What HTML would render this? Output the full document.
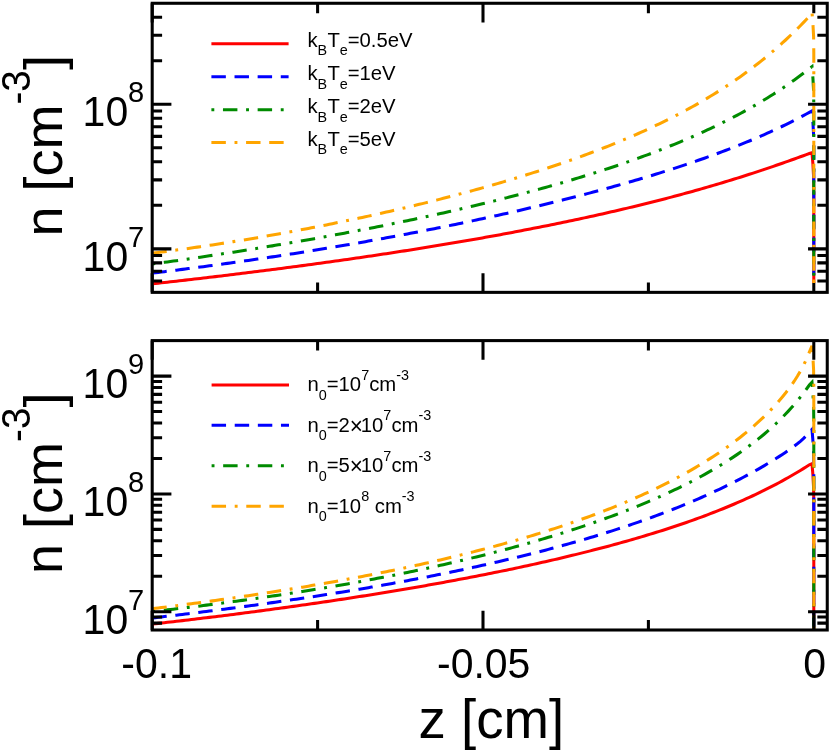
<!DOCTYPE html>
<html><head><meta charset="utf-8"><title>n(z)</title>
<style>
html,body{margin:0;padding:0;background:#fff;}
svg{display:block;will-change:transform;}
text{font-family:"Liberation Sans",sans-serif;fill:#000;}
</style></head><body>
<svg width="830" height="751" viewBox="0 0 830 751">
<rect x="0" y="0" width="830" height="751" fill="#fff"/>
<defs>
<clipPath id="clip_top"><rect x="152.2" y="3.27" width="675.05" height="289.09"/></clipPath>
<clipPath id="clip_bot"><rect x="152.2" y="340.6" width="675.05" height="289.4"/></clipPath>
</defs>
<!-- top panel -->
<path d="M152.2 3.27v19.2 M152.2 292.36v-19.2 M317.6 3.27v9.9 M317.6 292.36v-9.9 M483 3.27v19.2 M483 292.36v-19.2 M648.4 3.27v9.9 M648.4 292.36v-9.9" stroke="#000" stroke-width="3.05" fill="none"/>
<path d="M813.8 3.27v9.9 M813.8 292.36v-9.9" stroke="#000" stroke-width="3.05" fill="none"/>
<g clip-path="url(#clip_top)" fill="none" stroke-width="3.05" stroke-linejoin="miter" stroke-miterlimit="3">
<path d="M152.35 283.85 L155.35 283.52 L158.35 283.19 L161.35 282.85 L164.35 282.52 L167.35 282.18 L170.35 281.84 L173.35 281.5 L176.35 281.16 L179.35 280.82 L182.35 280.48 L185.35 280.13 L188.35 279.79 L191.35 279.44 L194.35 279.09 L197.35 278.74 L200.35 278.39 L203.35 278.04 L206.35 277.69 L209.35 277.33 L212.35 276.98 L215.35 276.62 L218.35 276.26 L221.35 275.9 L224.35 275.54 L227.35 275.18 L230.35 274.81 L233.35 274.45 L236.35 274.08 L239.35 273.71 L242.35 273.34 L245.35 272.97 L248.35 272.6 L251.35 272.22 L254.35 271.85 L257.35 271.47 L260.35 271.09 L263.35 270.71 L266.35 270.33 L269.35 269.94 L272.35 269.56 L275.35 269.17 L278.35 268.78 L281.35 268.39 L284.35 268 L287.35 267.61 L290.35 267.21 L293.35 266.82 L296.35 266.42 L299.35 266.02 L302.35 265.62 L305.35 265.21 L308.35 264.81 L311.35 264.4 L314.35 264 L317.35 263.59 L320.35 263.17 L323.35 262.76 L326.35 262.34 L329.35 261.93 L332.35 261.51 L335.35 261.09 L338.35 260.67 L341.35 260.24 L344.35 259.81 L347.35 259.39 L350.35 258.96 L353.35 258.52 L356.35 258.09 L359.35 257.66 L362.35 257.22 L365.35 256.78 L368.35 256.34 L371.35 255.89 L374.35 255.45 L377.35 255 L380.35 254.55 L383.35 254.1 L386.35 253.64 L389.35 253.19 L392.35 252.73 L395.35 252.27 L398.35 251.8 L401.35 251.34 L404.35 250.87 L407.35 250.4 L410.35 249.93 L413.35 249.46 L416.35 248.98 L419.35 248.5 L422.35 248.02 L425.35 247.54 L428.35 247.05 L431.35 246.57 L434.35 246.07 L437.35 245.58 L440.35 245.09 L443.35 244.59 L446.35 244.09 L449.35 243.59 L452.35 243.08 L455.35 242.57 L458.35 242.06 L461.35 241.55 L464.35 241.03 L467.35 240.51 L470.35 239.99 L473.35 239.47 L476.35 238.94 L479.35 238.41 L482.35 237.88 L485.35 237.35 L488.35 236.81 L491.35 236.27 L494.35 235.72 L497.35 235.18 L500.35 234.63 L503.35 234.07 L506.35 233.52 L509.35 232.96 L512.35 232.4 L515.35 231.83 L518.35 231.26 L521.35 230.69 L524.35 230.12 L527.35 229.54 L530.35 228.96 L533.35 228.37 L536.35 227.78 L539.35 227.19 L542.35 226.6 L545.35 226 L548.35 225.4 L551.35 224.79 L554.35 224.18 L557.35 223.57 L560.35 222.95 L563.35 222.33 L566.35 221.71 L569.35 221.08 L572.35 220.45 L575.35 219.81 L578.35 219.17 L581.35 218.53 L584.35 217.88 L587.35 217.23 L590.35 216.57 L593.35 215.91 L596.35 215.25 L599.35 214.58 L602.35 213.91 L605.35 213.23 L608.35 212.55 L611.35 211.86 L614.35 211.17 L617.35 210.47 L620.35 209.77 L623.35 209.07 L626.35 208.36 L629.35 207.64 L632.35 206.93 L635.35 206.2 L638.35 205.47 L641.35 204.74 L644.35 204 L647.35 203.25 L650.35 202.5 L653.35 201.75 L656.35 200.99 L659.35 200.22 L662.35 199.45 L665.35 198.67 L668.35 197.89 L671.35 197.1 L674.35 196.3 L677.35 195.5 L680.35 194.69 L683.35 193.88 L686.35 193.06 L689.35 192.24 L692.35 191.41 L695.35 190.57 L698.35 189.72 L701.35 188.87 L704.35 188.02 L707.35 187.15 L710.35 186.28 L713.35 185.4 L716.35 184.52 L719.35 183.63 L722.35 182.73 L725.35 181.82 L728.35 180.91 L731.35 179.99 L734.35 179.06 L737.35 178.13 L740.35 177.19 L743.35 176.24 L746.35 175.28 L749.35 174.31 L752.35 173.34 L755.35 172.36 L758.35 171.38 L761.35 170.38 L764.35 169.38 L767.35 168.37 L770.35 167.35 L773.35 166.33 L776.35 165.3 L779.35 164.26 L782.35 163.21 L785.35 162.16 L788.35 161.1 L791.35 160.03 L794.35 158.96 L797.35 157.88 L800.35 156.8 L803.35 155.71 L806.35 154.62 L809.35 153.53 L812 152.7 L812.9 163.7 L813.6 176.7 L813.8 192.7 L813.8 283" stroke="#ff0000"/>
<path d="M152.35 273.1 L155.35 272.74 L158.35 272.37 L161.35 272.01 L164.35 271.64 L167.35 271.27 L170.35 270.89 L173.35 270.52 L176.35 270.14 L179.35 269.76 L182.35 269.38 L185.35 269 L188.35 268.61 L191.35 268.22 L194.35 267.83 L197.35 267.44 L200.35 267.04 L203.35 266.65 L206.35 266.25 L209.35 265.84 L212.35 265.44 L215.35 265.03 L218.35 264.63 L221.35 264.21 L224.35 263.8 L227.35 263.38 L230.35 262.97 L233.35 262.55 L236.35 262.12 L239.35 261.7 L242.35 261.27 L245.35 260.84 L248.35 260.41 L251.35 259.98 L254.35 259.54 L257.35 259.1 L260.35 258.66 L263.35 258.21 L266.35 257.77 L269.35 257.32 L272.35 256.87 L275.35 256.41 L278.35 255.96 L281.35 255.5 L284.35 255.04 L287.35 254.57 L290.35 254.11 L293.35 253.64 L296.35 253.17 L299.35 252.7 L302.35 252.22 L305.35 251.74 L308.35 251.26 L311.35 250.78 L314.35 250.29 L317.35 249.8 L320.35 249.31 L323.35 248.82 L326.35 248.32 L329.35 247.82 L332.35 247.32 L335.35 246.82 L338.35 246.31 L341.35 245.8 L344.35 245.29 L347.35 244.78 L350.35 244.26 L353.35 243.74 L356.35 243.22 L359.35 242.69 L362.35 242.17 L365.35 241.64 L368.35 241.1 L371.35 240.57 L374.35 240.03 L377.35 239.49 L380.35 238.94 L383.35 238.4 L386.35 237.85 L389.35 237.29 L392.35 236.74 L395.35 236.18 L398.35 235.62 L401.35 235.06 L404.35 234.49 L407.35 233.92 L410.35 233.35 L413.35 232.77 L416.35 232.19 L419.35 231.61 L422.35 231.03 L425.35 230.44 L428.35 229.85 L431.35 229.26 L434.35 228.66 L437.35 228.06 L440.35 227.46 L443.35 226.86 L446.35 226.25 L449.35 225.63 L452.35 225.02 L455.35 224.4 L458.35 223.78 L461.35 223.16 L464.35 222.53 L467.35 221.9 L470.35 221.26 L473.35 220.63 L476.35 219.99 L479.35 219.34 L482.35 218.69 L485.35 218.04 L488.35 217.39 L491.35 216.73 L494.35 216.07 L497.35 215.41 L500.35 214.74 L503.35 214.07 L506.35 213.39 L509.35 212.71 L512.35 212.03 L515.35 211.34 L518.35 210.65 L521.35 209.96 L524.35 209.26 L527.35 208.56 L530.35 207.85 L533.35 207.14 L536.35 206.43 L539.35 205.71 L542.35 204.99 L545.35 204.27 L548.35 203.54 L551.35 202.8 L554.35 202.06 L557.35 201.32 L560.35 200.58 L563.35 199.83 L566.35 199.07 L569.35 198.31 L572.35 197.55 L575.35 196.78 L578.35 196 L581.35 195.23 L584.35 194.44 L587.35 193.65 L590.35 192.86 L593.35 192.06 L596.35 191.26 L599.35 190.45 L602.35 189.64 L605.35 188.82 L608.35 188 L611.35 187.17 L614.35 186.34 L617.35 185.5 L620.35 184.65 L623.35 183.8 L626.35 182.94 L629.35 182.08 L632.35 181.21 L635.35 180.33 L638.35 179.45 L641.35 178.56 L644.35 177.67 L647.35 176.77 L650.35 175.86 L653.35 174.94 L656.35 174.02 L659.35 173.09 L662.35 172.16 L665.35 171.21 L668.35 170.26 L671.35 169.3 L674.35 168.34 L677.35 167.36 L680.35 166.38 L683.35 165.38 L686.35 164.38 L689.35 163.38 L692.35 162.36 L695.35 161.33 L698.35 160.29 L701.35 159.25 L704.35 158.19 L707.35 157.12 L710.35 156.05 L713.35 154.96 L716.35 153.86 L719.35 152.75 L722.35 151.63 L725.35 150.5 L728.35 149.35 L731.35 148.2 L734.35 147.03 L737.35 145.84 L740.35 144.65 L743.35 143.44 L746.35 142.21 L749.35 140.97 L752.35 139.72 L755.35 138.45 L758.35 137.16 L761.35 135.86 L764.35 134.54 L767.35 133.21 L770.35 131.85 L773.35 130.48 L776.35 129.09 L779.35 127.68 L782.35 126.25 L785.35 124.79 L788.35 123.32 L791.35 121.82 L794.35 120.3 L797.35 118.76 L800.35 117.19 L803.35 115.59 L806.35 113.97 L809.35 112.33 L812 110.9 L812.9 121.9 L813.6 134.9 L813.8 150.9 L813.8 283" stroke="#0000ff" stroke-dasharray="14.45 8.67"/>
<path d="M152.35 264.01 L155.35 263.59 L158.35 263.18 L161.35 262.76 L164.35 262.34 L167.35 261.92 L170.35 261.5 L173.35 261.08 L176.35 260.65 L179.35 260.22 L182.35 259.79 L185.35 259.36 L188.35 258.92 L191.35 258.49 L194.35 258.05 L197.35 257.61 L200.35 257.16 L203.35 256.72 L206.35 256.27 L209.35 255.82 L212.35 255.37 L215.35 254.92 L218.35 254.46 L221.35 254 L224.35 253.54 L227.35 253.08 L230.35 252.62 L233.35 252.15 L236.35 251.68 L239.35 251.21 L242.35 250.73 L245.35 250.26 L248.35 249.78 L251.35 249.3 L254.35 248.82 L257.35 248.33 L260.35 247.84 L263.35 247.35 L266.35 246.86 L269.35 246.36 L272.35 245.87 L275.35 245.37 L278.35 244.87 L281.35 244.36 L284.35 243.85 L287.35 243.34 L290.35 242.83 L293.35 242.32 L296.35 241.8 L299.35 241.28 L302.35 240.76 L305.35 240.23 L308.35 239.71 L311.35 239.17 L314.35 238.64 L317.35 238.11 L320.35 237.57 L323.35 237.03 L326.35 236.48 L329.35 235.94 L332.35 235.39 L335.35 234.84 L338.35 234.28 L341.35 233.72 L344.35 233.16 L347.35 232.6 L350.35 232.03 L353.35 231.46 L356.35 230.89 L359.35 230.32 L362.35 229.74 L365.35 229.16 L368.35 228.57 L371.35 227.99 L374.35 227.4 L377.35 226.8 L380.35 226.21 L383.35 225.61 L386.35 225 L389.35 224.4 L392.35 223.79 L395.35 223.18 L398.35 222.56 L401.35 221.94 L404.35 221.32 L407.35 220.69 L410.35 220.06 L413.35 219.43 L416.35 218.79 L419.35 218.15 L422.35 217.51 L425.35 216.86 L428.35 216.21 L431.35 215.56 L434.35 214.9 L437.35 214.24 L440.35 213.57 L443.35 212.9 L446.35 212.23 L449.35 211.55 L452.35 210.87 L455.35 210.18 L458.35 209.49 L461.35 208.8 L464.35 208.1 L467.35 207.4 L470.35 206.69 L473.35 205.98 L476.35 205.26 L479.35 204.54 L482.35 203.82 L485.35 203.09 L488.35 202.36 L491.35 201.62 L494.35 200.88 L497.35 200.13 L500.35 199.38 L503.35 198.62 L506.35 197.86 L509.35 197.09 L512.35 196.32 L515.35 195.54 L518.35 194.76 L521.35 193.97 L524.35 193.18 L527.35 192.38 L530.35 191.58 L533.35 190.77 L536.35 189.95 L539.35 189.13 L542.35 188.31 L545.35 187.47 L548.35 186.63 L551.35 185.79 L554.35 184.94 L557.35 184.08 L560.35 183.22 L563.35 182.35 L566.35 181.47 L569.35 180.59 L572.35 179.69 L575.35 178.8 L578.35 177.89 L581.35 176.98 L584.35 176.06 L587.35 175.14 L590.35 174.2 L593.35 173.26 L596.35 172.31 L599.35 171.35 L602.35 170.39 L605.35 169.41 L608.35 168.43 L611.35 167.44 L614.35 166.44 L617.35 165.43 L620.35 164.41 L623.35 163.39 L626.35 162.35 L629.35 161.31 L632.35 160.25 L635.35 159.18 L638.35 158.11 L641.35 157.02 L644.35 155.93 L647.35 154.82 L650.35 153.7 L653.35 152.57 L656.35 151.43 L659.35 150.27 L662.35 149.11 L665.35 147.93 L668.35 146.74 L671.35 145.54 L674.35 144.32 L677.35 143.09 L680.35 141.85 L683.35 140.59 L686.35 139.32 L689.35 138.03 L692.35 136.73 L695.35 135.41 L698.35 134.08 L701.35 132.73 L704.35 131.36 L707.35 129.98 L710.35 128.58 L713.35 127.16 L716.35 125.72 L719.35 124.27 L722.35 122.79 L725.35 121.3 L728.35 119.78 L731.35 118.25 L734.35 116.69 L737.35 115.11 L740.35 113.51 L743.35 111.88 L746.35 110.23 L749.35 108.56 L752.35 106.86 L755.35 105.13 L758.35 103.38 L761.35 101.6 L764.35 99.79 L767.35 97.95 L770.35 96.08 L773.35 94.18 L776.35 92.25 L779.35 90.29 L782.35 88.29 L785.35 86.26 L788.35 84.19 L791.35 82.08 L794.35 79.93 L797.35 77.75 L800.35 75.52 L803.35 73.25 L806.35 70.94 L809.35 68.58 L812 66.6 L812.9 77.6 L813.6 90.6 L813.8 106.6 L813.8 283" stroke="#008b00" stroke-dasharray="2.89 8.67 14.45 8.67"/>
<path d="M152.35 253.22 L155.35 252.84 L158.35 252.46 L161.35 252.07 L164.35 251.68 L167.35 251.28 L170.35 250.88 L173.35 250.48 L176.35 250.07 L179.35 249.66 L182.35 249.25 L185.35 248.83 L188.35 248.41 L191.35 247.98 L194.35 247.55 L197.35 247.12 L200.35 246.68 L203.35 246.24 L206.35 245.8 L209.35 245.35 L212.35 244.9 L215.35 244.44 L218.35 243.98 L221.35 243.52 L224.35 243.05 L227.35 242.58 L230.35 242.1 L233.35 241.63 L236.35 241.14 L239.35 240.66 L242.35 240.17 L245.35 239.67 L248.35 239.18 L251.35 238.68 L254.35 238.17 L257.35 237.66 L260.35 237.15 L263.35 236.63 L266.35 236.11 L269.35 235.59 L272.35 235.06 L275.35 234.53 L278.35 233.99 L281.35 233.45 L284.35 232.91 L287.35 232.36 L290.35 231.81 L293.35 231.26 L296.35 230.7 L299.35 230.14 L302.35 229.57 L305.35 229 L308.35 228.43 L311.35 227.85 L314.35 227.27 L317.35 226.68 L320.35 226.09 L323.35 225.5 L326.35 224.9 L329.35 224.3 L332.35 223.7 L335.35 223.09 L338.35 222.47 L341.35 221.86 L344.35 221.24 L347.35 220.61 L350.35 219.98 L353.35 219.35 L356.35 218.71 L359.35 218.07 L362.35 217.42 L365.35 216.77 L368.35 216.12 L371.35 215.46 L374.35 214.8 L377.35 214.13 L380.35 213.46 L383.35 212.79 L386.35 212.11 L389.35 211.42 L392.35 210.73 L395.35 210.04 L398.35 209.35 L401.35 208.64 L404.35 207.94 L407.35 207.23 L410.35 206.51 L413.35 205.79 L416.35 205.07 L419.35 204.34 L422.35 203.61 L425.35 202.87 L428.35 202.13 L431.35 201.38 L434.35 200.63 L437.35 199.87 L440.35 199.11 L443.35 198.34 L446.35 197.57 L449.35 196.79 L452.35 196.01 L455.35 195.22 L458.35 194.42 L461.35 193.63 L464.35 192.82 L467.35 192.01 L470.35 191.2 L473.35 190.38 L476.35 189.55 L479.35 188.72 L482.35 187.88 L485.35 187.04 L488.35 186.19 L491.35 185.33 L494.35 184.47 L497.35 183.6 L500.35 182.73 L503.35 181.85 L506.35 180.96 L509.35 180.07 L512.35 179.17 L515.35 178.26 L518.35 177.35 L521.35 176.43 L524.35 175.5 L527.35 174.56 L530.35 173.62 L533.35 172.67 L536.35 171.71 L539.35 170.75 L542.35 169.78 L545.35 168.8 L548.35 167.81 L551.35 166.81 L554.35 165.8 L557.35 164.79 L560.35 163.77 L563.35 162.74 L566.35 161.7 L569.35 160.65 L572.35 159.59 L575.35 158.52 L578.35 157.44 L581.35 156.35 L584.35 155.25 L587.35 154.14 L590.35 153.03 L593.35 151.9 L596.35 150.75 L599.35 149.6 L602.35 148.44 L605.35 147.26 L608.35 146.08 L611.35 144.88 L614.35 143.67 L617.35 142.44 L620.35 141.2 L623.35 139.95 L626.35 138.69 L629.35 137.41 L632.35 136.12 L635.35 134.81 L638.35 133.49 L641.35 132.15 L644.35 130.8 L647.35 129.43 L650.35 128.05 L653.35 126.65 L656.35 125.23 L659.35 123.8 L662.35 122.34 L665.35 120.87 L668.35 119.38 L671.35 117.88 L674.35 116.35 L677.35 114.8 L680.35 113.23 L683.35 111.64 L686.35 110.03 L689.35 108.39 L692.35 106.74 L695.35 105.06 L698.35 103.36 L701.35 101.63 L704.35 99.88 L707.35 98.1 L710.35 96.29 L713.35 94.46 L716.35 92.6 L719.35 90.72 L722.35 88.8 L725.35 86.85 L728.35 84.87 L731.35 82.87 L734.35 80.83 L737.35 78.75 L740.35 76.64 L743.35 74.5 L746.35 72.32 L749.35 70.11 L752.35 67.85 L755.35 65.56 L758.35 63.23 L761.35 60.85 L764.35 58.44 L767.35 55.98 L770.35 53.48 L773.35 50.93 L776.35 48.33 L779.35 45.69 L782.35 42.99 L785.35 40.25 L788.35 37.45 L791.35 34.6 L794.35 31.7 L797.35 28.73 L800.35 25.71 L803.35 22.63 L806.35 19.49 L809.35 16.28 L812 12.4 L812.9 23.4 L813.6 36.4 L813.8 52.4 L813.8 283" stroke="#ffa500" stroke-dasharray="14.45 8.67 2.89 8.67 14.45 8.67"/>
</g>
<path d="M152.2 280.92h9.9 M827.25 280.92h-9.9 M152.2 271.24h9.9 M827.25 271.24h-9.9 M152.2 262.86h9.9 M827.25 262.86h-9.9 M152.2 255.46h9.9 M827.25 255.46h-9.9 M152.2 248.85h19.2 M827.25 248.85h-19.2 M152.2 205.34h9.9 M827.25 205.34h-9.9 M152.2 179.88h9.9 M827.25 179.88h-9.9 M152.2 161.82h9.9 M827.25 161.82h-9.9 M152.2 147.81h9.9 M827.25 147.81h-9.9 M152.2 136.37h9.9 M827.25 136.37h-9.9 M152.2 126.69h9.9 M827.25 126.69h-9.9 M152.2 118.31h9.9 M827.25 118.31h-9.9 M152.2 110.91h9.9 M827.25 110.91h-9.9 M152.2 104.3h19.2 M827.25 104.3h-19.2 M152.2 60.79h9.9 M827.25 60.79h-9.9 M152.2 35.33h9.9 M827.25 35.33h-9.9 M152.2 17.27h9.9 M827.25 17.27h-9.9" stroke="#000" stroke-width="3.05" fill="none"/>
<rect x="152.2" y="3.27" width="675.05" height="289.09" fill="none" stroke="#000" stroke-width="3.05"/>
<text transform="translate(82.6 270.65) scale(1 1.043)" font-size="41">10</text><text transform="translate(128 246.85) scale(1 1.043)" font-size="29.1">7</text>
<text transform="translate(82.6 126.1) scale(1 1.043)" font-size="41">10</text><text transform="translate(128 102.3) scale(1 1.043)" font-size="29.1">8</text>
<g transform="translate(61.6 236.6) rotate(-90)"><text x="0" y="0" font-size="54">n [cm</text><text transform="translate(132 -31.6) scale(1 1.045)" font-size="38.6">-3</text><text x="166.5" y="0" font-size="54">]</text></g>
<!-- bot panel -->
<path d="M152.2 340.6v19.2 M152.2 630v-19.2 M317.6 340.6v9.9 M317.6 630v-9.9 M483 340.6v19.2 M483 630v-19.2 M648.4 340.6v9.9 M648.4 630v-9.9" stroke="#000" stroke-width="3.05" fill="none"/>
<g clip-path="url(#clip_bot)" fill="none" stroke-width="3.05" stroke-linejoin="miter" stroke-miterlimit="3">
<path d="M152.35 624.05 L155.35 623.71 L158.35 623.38 L161.35 623.04 L164.35 622.69 L167.35 622.35 L170.35 622.01 L173.35 621.67 L176.35 621.32 L179.35 620.97 L182.35 620.62 L185.35 620.27 L188.35 619.91 L191.35 619.56 L194.35 619.2 L197.35 618.84 L200.35 618.47 L203.35 618.11 L206.35 617.75 L209.35 617.38 L212.35 617.01 L215.35 616.65 L218.35 616.27 L221.35 615.9 L224.35 615.52 L227.35 615.15 L230.35 614.77 L233.35 614.39 L236.35 614.01 L239.35 613.62 L242.35 613.23 L245.35 612.85 L248.35 612.46 L251.35 612.07 L254.35 611.68 L257.35 611.28 L260.35 610.88 L263.35 610.48 L266.35 610.08 L269.35 609.67 L272.35 609.27 L275.35 608.86 L278.35 608.46 L281.35 608.04 L284.35 607.63 L287.35 607.21 L290.35 606.79 L293.35 606.38 L296.35 605.95 L299.35 605.53 L302.35 605.11 L305.35 604.68 L308.35 604.25 L311.35 603.81 L314.35 603.38 L317.35 602.95 L320.35 602.51 L323.35 602.07 L326.35 601.62 L329.35 601.18 L332.35 600.73 L335.35 600.28 L338.35 599.83 L341.35 599.37 L344.35 598.91 L347.35 598.46 L350.35 597.99 L353.35 597.53 L356.35 597.06 L359.35 596.6 L362.35 596.13 L365.35 595.65 L368.35 595.17 L371.35 594.7 L374.35 594.22 L377.35 593.73 L380.35 593.25 L383.35 592.76 L386.35 592.26 L389.35 591.77 L392.35 591.28 L395.35 590.78 L398.35 590.28 L401.35 589.77 L404.35 589.26 L407.35 588.75 L410.35 588.24 L413.35 587.72 L416.35 587.2 L419.35 586.68 L422.35 586.16 L425.35 585.63 L428.35 585.1 L431.35 584.57 L434.35 584.03 L437.35 583.49 L440.35 582.95 L443.35 582.4 L446.35 581.86 L449.35 581.3 L452.35 580.75 L455.35 580.19 L458.35 579.62 L461.35 579.06 L464.35 578.49 L467.35 577.92 L470.35 577.34 L473.35 576.76 L476.35 576.18 L479.35 575.59 L482.35 575 L485.35 574.41 L488.35 573.81 L491.35 573.21 L494.35 572.61 L497.35 572 L500.35 571.38 L503.35 570.77 L506.35 570.15 L509.35 569.52 L512.35 568.89 L515.35 568.26 L518.35 567.62 L521.35 566.98 L524.35 566.33 L527.35 565.68 L530.35 565.03 L533.35 564.37 L536.35 563.7 L539.35 563.03 L542.35 562.36 L545.35 561.68 L548.35 560.99 L551.35 560.31 L554.35 559.62 L557.35 558.92 L560.35 558.22 L563.35 557.51 L566.35 556.79 L569.35 556.07 L572.35 555.34 L575.35 554.61 L578.35 553.87 L581.35 553.13 L584.35 552.38 L587.35 551.63 L590.35 550.86 L593.35 550.1 L596.35 549.32 L599.35 548.54 L602.35 547.76 L605.35 546.96 L608.35 546.16 L611.35 545.36 L614.35 544.54 L617.35 543.72 L620.35 542.89 L623.35 542.05 L626.35 541.21 L629.35 540.36 L632.35 539.5 L635.35 538.62 L638.35 537.75 L641.35 536.86 L644.35 535.98 L647.35 535.07 L650.35 534.16 L653.35 533.24 L656.35 532.31 L659.35 531.36 L662.35 530.42 L665.35 529.46 L668.35 528.49 L671.35 527.51 L674.35 526.51 L677.35 525.51 L680.35 524.5 L683.35 523.47 L686.35 522.44 L689.35 521.39 L692.35 520.33 L695.35 519.25 L698.35 518.17 L701.35 517.07 L704.35 515.95 L707.35 514.83 L710.35 513.69 L713.35 512.53 L716.35 511.36 L719.35 510.17 L722.35 508.97 L725.35 507.75 L728.35 506.52 L731.35 505.27 L734.35 504 L737.35 502.71 L740.35 501.41 L743.35 500.08 L746.35 498.73 L749.35 497.37 L752.35 495.99 L755.35 494.58 L758.35 493.15 L761.35 491.7 L764.35 490.22 L767.35 488.73 L770.35 487.2 L773.35 485.65 L776.35 484.08 L779.35 482.48 L782.35 480.85 L785.35 479.2 L788.35 477.51 L791.35 475.79 L794.35 474.04 L797.35 472.26 L800.35 470.45 L803.35 468.6 L806.35 466.71 L809.35 464.79 L812 463.7 L812.9 474.7 L813.6 487.7 L813.8 503.7 L813.8 640" stroke="#ff0000"/>
<path d="M152.35 617.95 L155.35 617.61 L158.35 617.26 L161.35 616.91 L164.35 616.56 L167.35 616.21 L170.35 615.86 L173.35 615.5 L176.35 615.14 L179.35 614.78 L182.35 614.42 L185.35 614.06 L188.35 613.69 L191.35 613.33 L194.35 612.96 L197.35 612.59 L200.35 612.21 L203.35 611.84 L206.35 611.46 L209.35 611.08 L212.35 610.7 L215.35 610.32 L218.35 609.94 L221.35 609.55 L224.35 609.16 L227.35 608.77 L230.35 608.37 L233.35 607.98 L236.35 607.58 L239.35 607.18 L242.35 606.78 L245.35 606.38 L248.35 605.97 L251.35 605.56 L254.35 605.15 L257.35 604.74 L260.35 604.32 L263.35 603.9 L266.35 603.48 L269.35 603.06 L272.35 602.63 L275.35 602.21 L278.35 601.78 L281.35 601.34 L284.35 600.91 L287.35 600.47 L290.35 600.03 L293.35 599.59 L296.35 599.15 L299.35 598.7 L302.35 598.25 L305.35 597.8 L308.35 597.34 L311.35 596.88 L314.35 596.42 L317.35 595.96 L320.35 595.49 L323.35 595.02 L326.35 594.55 L329.35 594.08 L332.35 593.6 L335.35 593.12 L338.35 592.63 L341.35 592.15 L344.35 591.66 L347.35 591.17 L350.35 590.67 L353.35 590.17 L356.35 589.67 L359.35 589.17 L362.35 588.66 L365.35 588.15 L368.35 587.63 L371.35 587.12 L374.35 586.6 L377.35 586.07 L380.35 585.55 L383.35 585.02 L386.35 584.48 L389.35 583.94 L392.35 583.4 L395.35 582.86 L398.35 582.31 L401.35 581.76 L404.35 581.2 L407.35 580.64 L410.35 580.08 L413.35 579.52 L416.35 578.95 L419.35 578.37 L422.35 577.79 L425.35 577.21 L428.35 576.63 L431.35 576.04 L434.35 575.44 L437.35 574.85 L440.35 574.24 L443.35 573.64 L446.35 573.03 L449.35 572.41 L452.35 571.79 L455.35 571.17 L458.35 570.54 L461.35 569.91 L464.35 569.27 L467.35 568.63 L470.35 567.99 L473.35 567.34 L476.35 566.68 L479.35 566.02 L482.35 565.36 L485.35 564.69 L488.35 564.01 L491.35 563.33 L494.35 562.65 L497.35 561.96 L500.35 561.26 L503.35 560.56 L506.35 559.85 L509.35 559.14 L512.35 558.42 L515.35 557.7 L518.35 556.97 L521.35 556.24 L524.35 555.5 L527.35 554.75 L530.35 554 L533.35 553.24 L536.35 552.48 L539.35 551.71 L542.35 550.93 L545.35 550.15 L548.35 549.36 L551.35 548.56 L554.35 547.76 L557.35 546.95 L560.35 546.13 L563.35 545.31 L566.35 544.48 L569.35 543.64 L572.35 542.8 L575.35 541.94 L578.35 541.08 L581.35 540.22 L584.35 539.34 L587.35 538.46 L590.35 537.57 L593.35 536.67 L596.35 535.76 L599.35 534.84 L602.35 533.92 L605.35 532.99 L608.35 532.04 L611.35 531.09 L614.35 530.13 L617.35 529.16 L620.35 528.18 L623.35 527.2 L626.35 526.2 L629.35 525.19 L632.35 524.17 L635.35 523.14 L638.35 522.1 L641.35 521.05 L644.35 519.99 L647.35 518.92 L650.35 517.84 L653.35 516.75 L656.35 515.64 L659.35 514.52 L662.35 513.39 L665.35 512.25 L668.35 511.1 L671.35 509.93 L674.35 508.75 L677.35 507.55 L680.35 506.35 L683.35 505.12 L686.35 503.89 L689.35 502.64 L692.35 501.37 L695.35 500.09 L698.35 498.8 L701.35 497.49 L704.35 496.16 L707.35 494.82 L710.35 493.46 L713.35 492.08 L716.35 490.68 L719.35 489.27 L722.35 487.84 L725.35 486.39 L728.35 484.92 L731.35 483.43 L734.35 481.92 L737.35 480.39 L740.35 478.84 L743.35 477.26 L746.35 475.67 L749.35 474.05 L752.35 472.41 L755.35 470.74 L758.35 469.05 L761.35 467.33 L764.35 465.58 L767.35 463.81 L770.35 462 L773.35 460.17 L776.35 458.3 L779.35 456.39 L782.35 454.44 L785.35 452.44 L788.35 450.39 L791.35 448.28 L794.35 446.08 L797.35 443.77 L800.35 441.32 L803.35 438.65 L806.35 435.65 L809.35 432.1 L812 429.3 L812.9 440.3 L813.6 453.3 L813.8 469.3 L813.8 640" stroke="#0000ff" stroke-dasharray="14.45 8.67"/>
<path d="M152.35 611.56 L155.35 611.22 L158.35 610.88 L161.35 610.54 L164.35 610.2 L167.35 609.86 L170.35 609.51 L173.35 609.16 L176.35 608.8 L179.35 608.45 L182.35 608.09 L185.35 607.73 L188.35 607.37 L191.35 607 L194.35 606.63 L197.35 606.26 L200.35 605.89 L203.35 605.51 L206.35 605.13 L209.35 604.75 L212.35 604.37 L215.35 603.98 L218.35 603.59 L221.35 603.2 L224.35 602.8 L227.35 602.4 L230.35 602 L233.35 601.6 L236.35 601.19 L239.35 600.78 L242.35 600.37 L245.35 599.95 L248.35 599.53 L251.35 599.11 L254.35 598.68 L257.35 598.26 L260.35 597.83 L263.35 597.39 L266.35 596.96 L269.35 596.51 L272.35 596.07 L275.35 595.62 L278.35 595.18 L281.35 594.72 L284.35 594.27 L287.35 593.81 L290.35 593.34 L293.35 592.88 L296.35 592.41 L299.35 591.94 L302.35 591.46 L305.35 590.98 L308.35 590.5 L311.35 590.01 L314.35 589.52 L317.35 589.03 L320.35 588.53 L323.35 588.03 L326.35 587.53 L329.35 587.02 L332.35 586.51 L335.35 585.99 L338.35 585.47 L341.35 584.95 L344.35 584.42 L347.35 583.89 L350.35 583.36 L353.35 582.82 L356.35 582.28 L359.35 581.73 L362.35 581.18 L365.35 580.63 L368.35 580.07 L371.35 579.51 L374.35 578.94 L377.35 578.37 L380.35 577.79 L383.35 577.22 L386.35 576.63 L389.35 576.04 L392.35 575.45 L395.35 574.86 L398.35 574.25 L401.35 573.65 L404.35 573.04 L407.35 572.42 L410.35 571.8 L413.35 571.18 L416.35 570.55 L419.35 569.92 L422.35 569.28 L425.35 568.64 L428.35 567.99 L431.35 567.34 L434.35 566.68 L437.35 566.02 L440.35 565.35 L443.35 564.67 L446.35 564 L449.35 563.31 L452.35 562.62 L455.35 561.93 L458.35 561.23 L461.35 560.52 L464.35 559.81 L467.35 559.09 L470.35 558.37 L473.35 557.64 L476.35 556.91 L479.35 556.17 L482.35 555.42 L485.35 554.67 L488.35 553.91 L491.35 553.15 L494.35 552.38 L497.35 551.6 L500.35 550.81 L503.35 550.02 L506.35 549.23 L509.35 548.42 L512.35 547.61 L515.35 546.8 L518.35 545.97 L521.35 545.14 L524.35 544.3 L527.35 543.46 L530.35 542.6 L533.35 541.74 L536.35 540.87 L539.35 540 L542.35 539.11 L545.35 538.22 L548.35 537.32 L551.35 536.42 L554.35 535.5 L557.35 534.58 L560.35 533.64 L563.35 532.7 L566.35 531.75 L569.35 530.79 L572.35 529.82 L575.35 528.84 L578.35 527.86 L581.35 526.86 L584.35 525.85 L587.35 524.84 L590.35 523.81 L593.35 522.77 L596.35 521.73 L599.35 520.67 L602.35 519.6 L605.35 518.52 L608.35 517.43 L611.35 516.32 L614.35 515.21 L617.35 514.08 L620.35 512.94 L623.35 511.79 L626.35 510.62 L629.35 509.45 L632.35 508.25 L635.35 507.05 L638.35 505.83 L641.35 504.6 L644.35 503.35 L647.35 502.08 L650.35 500.81 L653.35 499.51 L656.35 498.2 L659.35 496.87 L662.35 495.53 L665.35 494.16 L668.35 492.78 L671.35 491.38 L674.35 489.96 L677.35 488.52 L680.35 487.07 L683.35 485.58 L686.35 484.08 L689.35 482.56 L692.35 481.01 L695.35 479.44 L698.35 477.84 L701.35 476.22 L704.35 474.57 L707.35 472.9 L710.35 471.19 L713.35 469.46 L716.35 467.7 L719.35 465.9 L722.35 464.07 L725.35 462.2 L728.35 460.3 L731.35 458.37 L734.35 456.39 L737.35 454.37 L740.35 452.31 L743.35 450.2 L746.35 448.04 L749.35 445.84 L752.35 443.58 L755.35 441.27 L758.35 438.9 L761.35 436.47 L764.35 433.97 L767.35 431.41 L770.35 428.77 L773.35 426.05 L776.35 423.25 L779.35 420.37 L782.35 417.39 L785.35 414.31 L788.35 411.12 L791.35 407.82 L794.35 404.39 L797.35 400.84 L800.35 397.13 L803.35 393.28 L806.35 389.25 L809.35 385.04 L812 382.2 L812.9 393.2 L813.6 406.2 L813.8 422.2 L813.8 640" stroke="#008b00" stroke-dasharray="2.89 8.67 14.45 8.67"/>
<path d="M152.35 608.73 L155.35 608.35 L158.35 607.98 L161.35 607.6 L164.35 607.23 L167.35 606.85 L170.35 606.46 L173.35 606.08 L176.35 605.69 L179.35 605.3 L182.35 604.91 L185.35 604.52 L188.35 604.12 L191.35 603.72 L194.35 603.32 L197.35 602.92 L200.35 602.51 L203.35 602.1 L206.35 601.69 L209.35 601.28 L212.35 600.87 L215.35 600.45 L218.35 600.03 L221.35 599.61 L224.35 599.18 L227.35 598.75 L230.35 598.32 L233.35 597.89 L236.35 597.45 L239.35 597.01 L242.35 596.57 L245.35 596.13 L248.35 595.68 L251.35 595.23 L254.35 594.78 L257.35 594.32 L260.35 593.87 L263.35 593.41 L266.35 592.94 L269.35 592.48 L272.35 592.01 L275.35 591.53 L278.35 591.06 L281.35 590.58 L284.35 590.1 L287.35 589.61 L290.35 589.12 L293.35 588.63 L296.35 588.14 L299.35 587.64 L302.35 587.14 L305.35 586.64 L308.35 586.13 L311.35 585.62 L314.35 585.1 L317.35 584.59 L320.35 584.07 L323.35 583.54 L326.35 583.01 L329.35 582.48 L332.35 581.95 L335.35 581.41 L338.35 580.86 L341.35 580.32 L344.35 579.77 L347.35 579.21 L350.35 578.66 L353.35 578.09 L356.35 577.53 L359.35 576.96 L362.35 576.39 L365.35 575.81 L368.35 575.23 L371.35 574.64 L374.35 574.05 L377.35 573.46 L380.35 572.86 L383.35 572.26 L386.35 571.65 L389.35 571.04 L392.35 570.42 L395.35 569.8 L398.35 569.17 L401.35 568.54 L404.35 567.91 L407.35 567.27 L410.35 566.63 L413.35 565.98 L416.35 565.32 L419.35 564.66 L422.35 564 L425.35 563.33 L428.35 562.66 L431.35 561.98 L434.35 561.29 L437.35 560.6 L440.35 559.91 L443.35 559.2 L446.35 558.5 L449.35 557.79 L452.35 557.07 L455.35 556.34 L458.35 555.61 L461.35 554.88 L464.35 554.13 L467.35 553.39 L470.35 552.63 L473.35 551.87 L476.35 551.1 L479.35 550.33 L482.35 549.55 L485.35 548.76 L488.35 547.97 L491.35 547.17 L494.35 546.36 L497.35 545.55 L500.35 544.73 L503.35 543.9 L506.35 543.06 L509.35 542.22 L512.35 541.37 L515.35 540.51 L518.35 539.64 L521.35 538.77 L524.35 537.88 L527.35 536.99 L530.35 536.09 L533.35 535.18 L536.35 534.27 L539.35 533.34 L542.35 532.41 L545.35 531.46 L548.35 530.51 L551.35 529.55 L554.35 528.58 L557.35 527.6 L560.35 526.6 L563.35 525.6 L566.35 524.59 L569.35 523.57 L572.35 522.54 L575.35 521.49 L578.35 520.44 L581.35 519.37 L584.35 518.3 L587.35 517.21 L590.35 516.11 L593.35 514.99 L596.35 513.87 L599.35 512.73 L602.35 511.58 L605.35 510.42 L608.35 509.24 L611.35 508.05 L614.35 506.84 L617.35 505.62 L620.35 504.39 L623.35 503.14 L626.35 501.88 L629.35 500.6 L632.35 499.3 L635.35 497.99 L638.35 496.66 L641.35 495.32 L644.35 493.95 L647.35 492.57 L650.35 491.17 L653.35 489.75 L656.35 488.32 L659.35 486.86 L662.35 485.38 L665.35 483.88 L668.35 482.36 L671.35 480.82 L674.35 479.25 L677.35 477.66 L680.35 476.05 L683.35 474.41 L686.35 472.74 L689.35 471.05 L692.35 469.33 L695.35 467.59 L698.35 465.81 L701.35 464.01 L704.35 462.17 L707.35 460.3 L710.35 458.4 L713.35 456.46 L716.35 454.49 L719.35 452.47 L722.35 450.42 L725.35 448.33 L728.35 446.2 L731.35 444.02 L734.35 441.79 L737.35 439.52 L740.35 437.19 L743.35 434.81 L746.35 432.38 L749.35 429.88 L752.35 427.32 L755.35 424.69 L758.35 421.99 L761.35 419.22 L764.35 416.36 L767.35 413.41 L770.35 410.36 L773.35 407.21 L776.35 403.95 L779.35 400.55 L782.35 397.01 L785.35 393.31 L788.35 389.43 L791.35 385.33 L794.35 380.97 L797.35 376.3 L800.35 371.24 L803.35 365.67 L806.35 359.41 L809.35 352.15 L812 345.8 L812.9 356.8 L813.6 369.8 L813.8 385.8 L813.8 640" stroke="#ffa500" stroke-dasharray="14.45 8.67 2.89 8.67 14.45 8.67"/>
</g>
<path d="M813.8 340.6v19.2 M813.8 630v-19.2" stroke="#000" stroke-width="3.05" fill="none"/>
<path d="M152.2 623.12h9.9 M827.25 623.12h-9.9 M152.2 617.09h9.9 M827.25 617.09h-9.9 M152.2 611.7h19.2 M827.25 611.7h-19.2 M152.2 576.24h9.9 M827.25 576.24h-9.9 M152.2 555.5h9.9 M827.25 555.5h-9.9 M152.2 540.78h9.9 M827.25 540.78h-9.9 M152.2 529.36h9.9 M827.25 529.36h-9.9 M152.2 520.03h9.9 M827.25 520.03h-9.9 M152.2 512.15h9.9 M827.25 512.15h-9.9 M152.2 505.32h9.9 M827.25 505.32h-9.9 M152.2 499.29h9.9 M827.25 499.29h-9.9 M152.2 493.9h19.2 M827.25 493.9h-19.2 M152.2 458.44h9.9 M827.25 458.44h-9.9 M152.2 437.7h9.9 M827.25 437.7h-9.9 M152.2 422.98h9.9 M827.25 422.98h-9.9 M152.2 411.56h9.9 M827.25 411.56h-9.9 M152.2 402.23h9.9 M827.25 402.23h-9.9 M152.2 394.35h9.9 M827.25 394.35h-9.9 M152.2 387.52h9.9 M827.25 387.52h-9.9 M152.2 381.49h9.9 M827.25 381.49h-9.9 M152.2 376.1h19.2 M827.25 376.1h-19.2" stroke="#000" stroke-width="3.05" fill="none"/>
<rect x="152.2" y="340.6" width="675.05" height="289.4" fill="none" stroke="#000" stroke-width="3.05"/>
<text transform="translate(82.6 633.5) scale(1 1.043)" font-size="41">10</text><text transform="translate(128 609.7) scale(1 1.043)" font-size="29.1">7</text>
<text transform="translate(82.6 515.7) scale(1 1.043)" font-size="41">10</text><text transform="translate(128 491.9) scale(1 1.043)" font-size="29.1">8</text>
<text transform="translate(82.6 397.9) scale(1 1.043)" font-size="41">10</text><text transform="translate(128 374.1) scale(1 1.043)" font-size="29.1">9</text>
<g transform="translate(61.6 573.93) rotate(-90)"><text x="0" y="0" font-size="54">n [cm</text><text transform="translate(132 -31.6) scale(1 1.045)" font-size="38.6">-3</text><text x="166.5" y="0" font-size="54">]</text></g>
<path d="M211.4 43.8H288.6" stroke="#ff0000" stroke-width="3.05" fill="none"/>
<text transform="translate(0 46.9) scale(1 1.04)" font-size="20.3"><tspan x="307.6">k</tspan><tspan x="317.5" dy="8.2" font-size="14.4">B</tspan><tspan x="327.5" dy="-8.2">T</tspan><tspan x="339.7" dy="8.2" font-size="14.4">e</tspan><tspan x="347.7" dy="-8.2">=0.5eV</tspan></text>
<path d="M211.4 76.7H288.6" stroke="#0000ff" stroke-width="3.05" fill="none" stroke-dasharray="14.45 8.67"/>
<text transform="translate(0 80.1) scale(1 1.04)" font-size="20.3"><tspan x="307.6">k</tspan><tspan x="317.5" dy="8.2" font-size="14.4">B</tspan><tspan x="327.5" dy="-8.2">T</tspan><tspan x="339.7" dy="8.2" font-size="14.4">e</tspan><tspan x="347.7" dy="-8.2">=1eV</tspan></text>
<path d="M211.4 109.8H288.6" stroke="#008b00" stroke-width="3.05" fill="none" stroke-dasharray="2.89 8.67 14.45 8.67"/>
<text transform="translate(0 113.2) scale(1 1.04)" font-size="20.3"><tspan x="307.6">k</tspan><tspan x="317.5" dy="8.2" font-size="14.4">B</tspan><tspan x="327.5" dy="-8.2">T</tspan><tspan x="339.7" dy="8.2" font-size="14.4">e</tspan><tspan x="347.7" dy="-8.2">=2eV</tspan></text>
<path d="M211.4 142.5H288.6" stroke="#ffa500" stroke-width="3.05" fill="none" stroke-dasharray="14.45 8.67 2.89 8.67 14.45 8.67"/>
<text transform="translate(0 145.8) scale(1 1.04)" font-size="20.3"><tspan x="307.6">k</tspan><tspan x="317.5" dy="8.2" font-size="14.4">B</tspan><tspan x="327.5" dy="-8.2">T</tspan><tspan x="339.7" dy="8.2" font-size="14.4">e</tspan><tspan x="347.7" dy="-8.2">=5eV</tspan></text>
<path d="M211.6 384.9H289" stroke="#ff0000" stroke-width="3.05" fill="none"/>
<text transform="translate(307.45 391.45) scale(1 1.04)" font-size="20.3">n<tspan dy="8.1" font-size="14.4">0</tspan><tspan dy="-8.1">=10</tspan><tspan dy="-11.3" font-size="14.4">7</tspan><tspan dy="11.3">cm</tspan><tspan dy="-11.3" font-size="14.4">-3</tspan></text>
<path d="M211.6 425.3H289" stroke="#0000ff" stroke-width="3.05" fill="none" stroke-dasharray="14.45 8.67"/>
<text transform="translate(307.45 431.85) scale(1 1.04)" font-size="20.3">n<tspan dy="8.1" font-size="14.4">0</tspan><tspan dy="-8.1">=2<tspan font-size="22.5" dy="1.6">×</tspan><tspan dy="-1.6" dx="-2.2">10</tspan></tspan><tspan dy="-11.3" font-size="14.4">7</tspan><tspan dy="11.3">cm</tspan><tspan dy="-11.3" font-size="14.4">-3</tspan></text>
<path d="M211.6 465.8H289" stroke="#008b00" stroke-width="3.05" fill="none" stroke-dasharray="2.89 8.67 14.45 8.67"/>
<text transform="translate(307.45 472.35) scale(1 1.04)" font-size="20.3">n<tspan dy="8.1" font-size="14.4">0</tspan><tspan dy="-8.1">=5<tspan font-size="22.5" dy="1.6">×</tspan><tspan dy="-1.6" dx="-2.2">10</tspan></tspan><tspan dy="-11.3" font-size="14.4">7</tspan><tspan dy="11.3">cm</tspan><tspan dy="-11.3" font-size="14.4">-3</tspan></text>
<path d="M211.6 506.3H289" stroke="#ffa500" stroke-width="3.05" fill="none" stroke-dasharray="14.45 8.67 2.89 8.67 14.45 8.67"/>
<text transform="translate(307.45 512.85) scale(1 1.04)" font-size="20.3">n<tspan dy="8.1" font-size="14.4">0</tspan><tspan dy="-8.1">=10</tspan><tspan dy="-11.3" font-size="14.4">8</tspan><tspan dy="11.3"> cm</tspan><tspan dy="-11.3" font-size="14.4">-3</tspan></text>
<text transform="translate(121.3 678) scale(1 1.043)" font-size="41">-0.1</text>
<text transform="translate(437 678) scale(1 1.043)" font-size="41">-0.05</text>
<text transform="translate(803.3 678) scale(1 1.043)" font-size="41">0</text>
<text x="491.3" y="737.8" font-size="54.6" text-anchor="middle">z [cm]</text>
</svg></body></html>
